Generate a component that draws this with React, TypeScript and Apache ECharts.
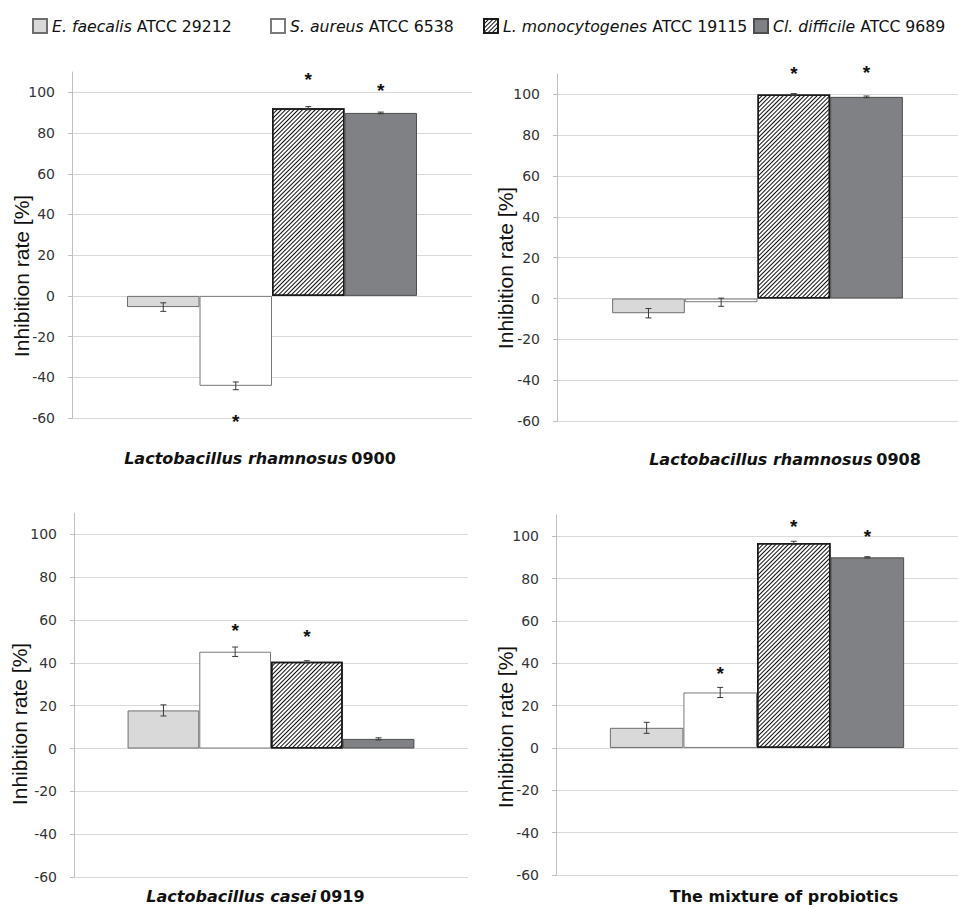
import { useEffect, useRef } from 'react';
import * as echarts from 'echarts';

// ---------- data ----------
const categories = [
  'Lactobacillus rhamnosus 0900',
  'Lactobacillus rhamnosus 0908',
  'Lactobacillus casei 0919',
  'The mixture of probiotics',
];
const strains = [
  'E. faecalis ATCC 29212',
  'S. aureus ATCC 6538',
  'L. monocytogenes ATCC 19115',
  'Cl. difficile ATCC 9689',
];
// one value per panel (category), in panel order
const faecalis = [-5.5, -7.2, 17.8, 9.5];
const faecalisErr = [2.1, 2.3, 2.6, 2.6];
const aureus = [-44.2, -1.8, 45.2, 26.2];
const aureusErr = [1.9, 2.0, 2.2, 2.4];
const monocytogenes = [92.2, 99.9, 40.5, 96.8];
const monocytogenesErr = [0.8, 0.5, 0.5, 0.8];
const difficile = [89.9, 98.8, 4.5, 90.0];
const difficileErr = [0.4, 0.4, 0.5, 0.3];
const faecalisSig = [false, false, false, false];
const aureusSig = [true, false, true, true];
const monocytogenesSig = [true, true, true, true];
const difficileSig = [true, true, false, true];
const yTicks = [-60, -40, -20, 0, 20, 40, 60, 80, 100];
const yTitle = 'Inhibition rate [%]';

// ---------- layout / style ----------
const values = [faecalis, aureus, monocytogenes, difficile];
const errors = [faecalisErr, aureusErr, monocytogenesErr, difficileErr];
const sigs = [faecalisSig, aureusSig, monocytogenesSig, difficileSig];
const starGap = [
  [0, 0, 0, 0],
  [36, 0, 21, 19],
  [29, 21, 25, 16],
  [22, 24, 0, 21],
];
const grids = [
  { left: 72, top: 72, width: 400, height: 346 },
  { left: 557, top: 74, width: 401, height: 347 },
  { left: 74, top: 513, width: 394, height: 364 },
  { left: 556, top: 515, width: 402, height: 360 },
];
const gapPct = [27.5, 27.5, 27.2, 26.8];
const xLabelMargin = [32, 30, 11, 13];
const xLabelPad = [
  [0, 24, 0, 0],
  [0, 0, 0, 55],
  [0, 31, 0, 0],
  [0, 0, 0, 54],
];
const yTitlePos = [
  [21, 276],
  [505, 268],
  [19, 724],
  [505, 727],
];
const legendLeft = [32, 270, 483, 753];

const hatch = {
  symbol: 'rect',
  symbolSize: 1,
  dashArrayX: [1, 0],
  dashArrayY: [1, 2],
  rotation: -Math.PI / 4,
  color: '#111111',
  backgroundColor: '#ffffff',
};
const barStyles: any[] = [
  { color: '#d9d9d9', borderColor: '#6e6e6e', borderWidth: 1 },
  { color: '#ffffff', borderColor: '#7a7a7a', borderWidth: 1 },
  { color: '#ffffff', borderColor: '#1a1a1a', borderWidth: 1.5, decal: hatch },
  { color: '#808184', borderColor: '#4d4d4d', borderWidth: 1 },
];

const FONT = 'DejaVu Sans';

export default function App() {
  const ref = useRef<HTMLDivElement>(null);
  useEffect(() => {
    if (!ref.current) return;
    const chart = echarts.init(ref.current, null, { renderer: 'svg' });

    const splitColors = yTicks.map(() => '#d9d9d9').concat(['rgba(0,0,0,0)']);

    const series: any[] = [];
    grids.forEach((_, gi) => {
      strains.forEach((name, si) => {
        const v = values[si][gi];
        const show = sigs[si][gi];
        series.push({
          type: 'bar',
          name,
          xAxisIndex: gi,
          yAxisIndex: gi,
          barGap: '0%',
          barCategoryGap: gapPct[gi] + '%',
          itemStyle: barStyles[si],
          silent: true,
          z: 2,
          data: [
            {
              value: v,
              label: {
                show,
                position: v < 0 ? 'bottom' : 'top',
                distance: starGap[si][gi],
                verticalAlign: 'middle',
                formatter: '*',
                fontSize: 19,
                fontWeight: 'bold',
                fontFamily: 'Liberation Sans',
                color: '#111',
              },
            },
          ],
        });
      });
      const gap = gapPct[gi] / 100;
      series.push({
        type: 'custom',
        xAxisIndex: gi,
        yAxisIndex: gi,
        silent: true,
        z: 5,
        encode: { x: 0, y: 1 },
        data: strains.map((_, si) => [0, values[si][gi], errors[si][gi], si]),
        renderItem: (params: any, api: any) => {
          const v = api.value(1);
          const e = api.value(2);
          const idx = api.value(3);
          const c = api.coord([0, v]);
          const band = api.size([1, 0])[0];
          const bw = (band * (1 - gap)) / 4;
          const x = c[0] + (idx - 1.5) * bw;
          const y1 = api.coord([0, v + e])[1];
          const y2 = api.coord([0, v - e])[1];
          const cap = 3;
          const st = { stroke: '#3a3a3a', lineWidth: 1 };
          return {
            type: 'group',
            children: [
              { type: 'line', shape: { x1: x, y1, x2: x, y2 }, style: st },
              { type: 'line', shape: { x1: x - cap, y1, x2: x + cap, y2: y1 }, style: st },
              { type: 'line', shape: { x1: x - cap, y1: y2, x2: x + cap, y2 }, style: st },
            ],
          };
        },
      });
    });

    const option: any = {
      animation: false,
      backgroundColor: '#ffffff',
      textStyle: { fontFamily: FONT },
      grid: grids.map((g) => ({ ...g, containLabel: false, outerBoundsMode: 'none' })),
      legend: strains.map((name, i) => ({
        data: [name],
        left: legendLeft[i],
        top: 18,
        padding: 0,
        itemWidth: 14,
        itemHeight: 14,
        itemGap: 0,
        icon: 'rect',
        selectedMode: false,
        formatter: (n: string) => {
          const k = n.indexOf(' ATCC');
          return `{i|${n.slice(0, k)}}${n.slice(k)}`;
        },
        textStyle: {
          fontFamily: FONT,
          fontSize: 15.7,
          color: '#111',
          rich: {
            i: { fontStyle: 'italic', fontFamily: FONT, fontSize: 15.7, color: '#111' },
          },
        },
      })),
      xAxis: grids.map((_, gi) => ({
        type: 'category',
        gridIndex: gi,
        data: [categories[gi]],
        axisLine: { show: false, onZero: false },
        axisTick: { show: false },
        axisLabel: {
          margin: xLabelMargin[gi],
          padding: xLabelPad[gi],
          formatter: (v: string) => {
            const m = v.match(/^(Lactobacillus \S+) (.*)$/);
            return m ? `{it|${m[1]}} {b|${m[2]}}` : `{b|${v}}`;
          },
          rich: {
            it: { fontStyle: 'italic', fontWeight: 'bold', fontFamily: FONT, fontSize: 16, color: '#111' },
            b: { fontWeight: 'bold', fontFamily: FONT, fontSize: 16, color: '#111' },
          },
        },
      })),
      yAxis: grids.map((_, gi) => ({
        type: 'value',
        gridIndex: gi,
        min: -60,
        max: 110,
        interval: 20,
        axisLine: { show: true, lineStyle: { color: '#bfbfbf', width: 1 } },
        axisTick: { show: true, length: 4, lineStyle: { color: '#bfbfbf' }, customValues: yTicks },
        axisLabel: {
          margin: 17,
          color: '#333',
          fontFamily: FONT,
          fontSize: 14,
          formatter: (v: number) => (v > 100 ? '' : String(v)),
        },
        splitLine: { show: true, lineStyle: { color: splitColors, width: 1 } },
      })),
      graphic: yTitlePos.map(([x, y]) => ({
        type: 'text',
        x,
        y,
        rotation: Math.PI / 2,
        silent: true,
        style: {
          text: yTitle,
          align: 'center',
          verticalAlign: 'middle',
          fontFamily: 'Liberation Sans',
          fontSize: 21,
          fill: '#111',
        },
      })),
      series,
    };
    chart.setOption(option);
    return () => chart.dispose();
  }, []);
  return (
    <div
      ref={ref}
      style={{ position: 'absolute', left: 0, top: 0, width: 958, height: 907, background: '#fff' }}
    />
  );
}
